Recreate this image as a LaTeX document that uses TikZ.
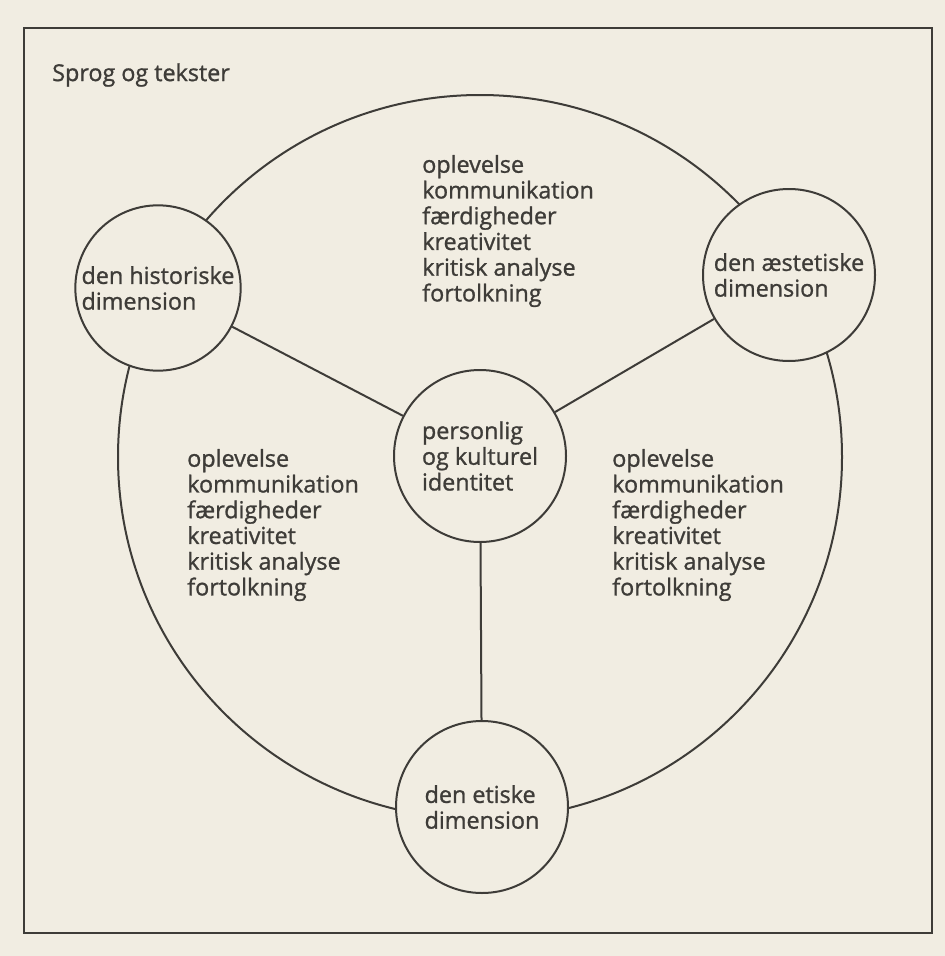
\documentclass[tikz,border=0pt]{standalone}
\usepackage{fontspec}
\setmainfont{Open Sans}[FakeBold=1.1]
\usetikzlibrary{positioning}
\definecolor{paper}{RGB}{241,237,226}
\definecolor{ink}{RGB}{62,60,56}

\begin{document}
\begin{tikzpicture}[
    x = 0.75pt,
    y = -0.75pt,
    every node/.style={text=ink, font=\fontsize{17.5}{19.3}\selectfont},
    dimension/.style={circle, draw=ink, line width=1.5pt, fill=paper,
        minimum size=129pt, inner sep=0pt, align=left},
    wordlist/.style={anchor=west, inner sep=0pt, align=left},
    link/.style={draw=ink, line width=1.5pt}
    ]
    \fill[paper] (0,0) rectangle (945,956);
    \useasboundingbox (0,0) rectangle (945,956);
    \draw[link] (24,28) rectangle (932,933);
    \node[wordlist] (title) at (52,75) {Sprog og tekster};

    % the big ring
    \draw[link] (480,457) circle [radius=271.5pt];

    \node[dimension, minimum size=124pt] (hist) at (158,288) {den historiske\\dimension};
    \node[dimension] (aest) at (789,275) {den æstetiske\\dimension};
    \node[dimension] (ident) at (480,456) {personlig\\og kulturel\\identitet};
    \node[dimension] (etik) at (482,807) {den etiske\\dimension};

    \draw[link] (hist) -- (ident);
    \draw[link] (aest) -- (ident);
    \draw[link] (ident) -- (etik);

    % word lists
    \node[wordlist] (toplist) at (422,231) {oplevelse\\kommunikation\\færdigheder\\kreativitet\\kritisk analyse\\fortolkning};
    \node[wordlist] (leftlist) at (187,525) {oplevelse\\kommunikation\\færdigheder\\kreativitet\\kritisk analyse\\fortolkning};
    \node[wordlist] (rightlist) at (612,525) {oplevelse\\kommunikation\\færdigheder\\kreativitet\\kritisk analyse\\fortolkning};
\end{tikzpicture}
\end{document}
